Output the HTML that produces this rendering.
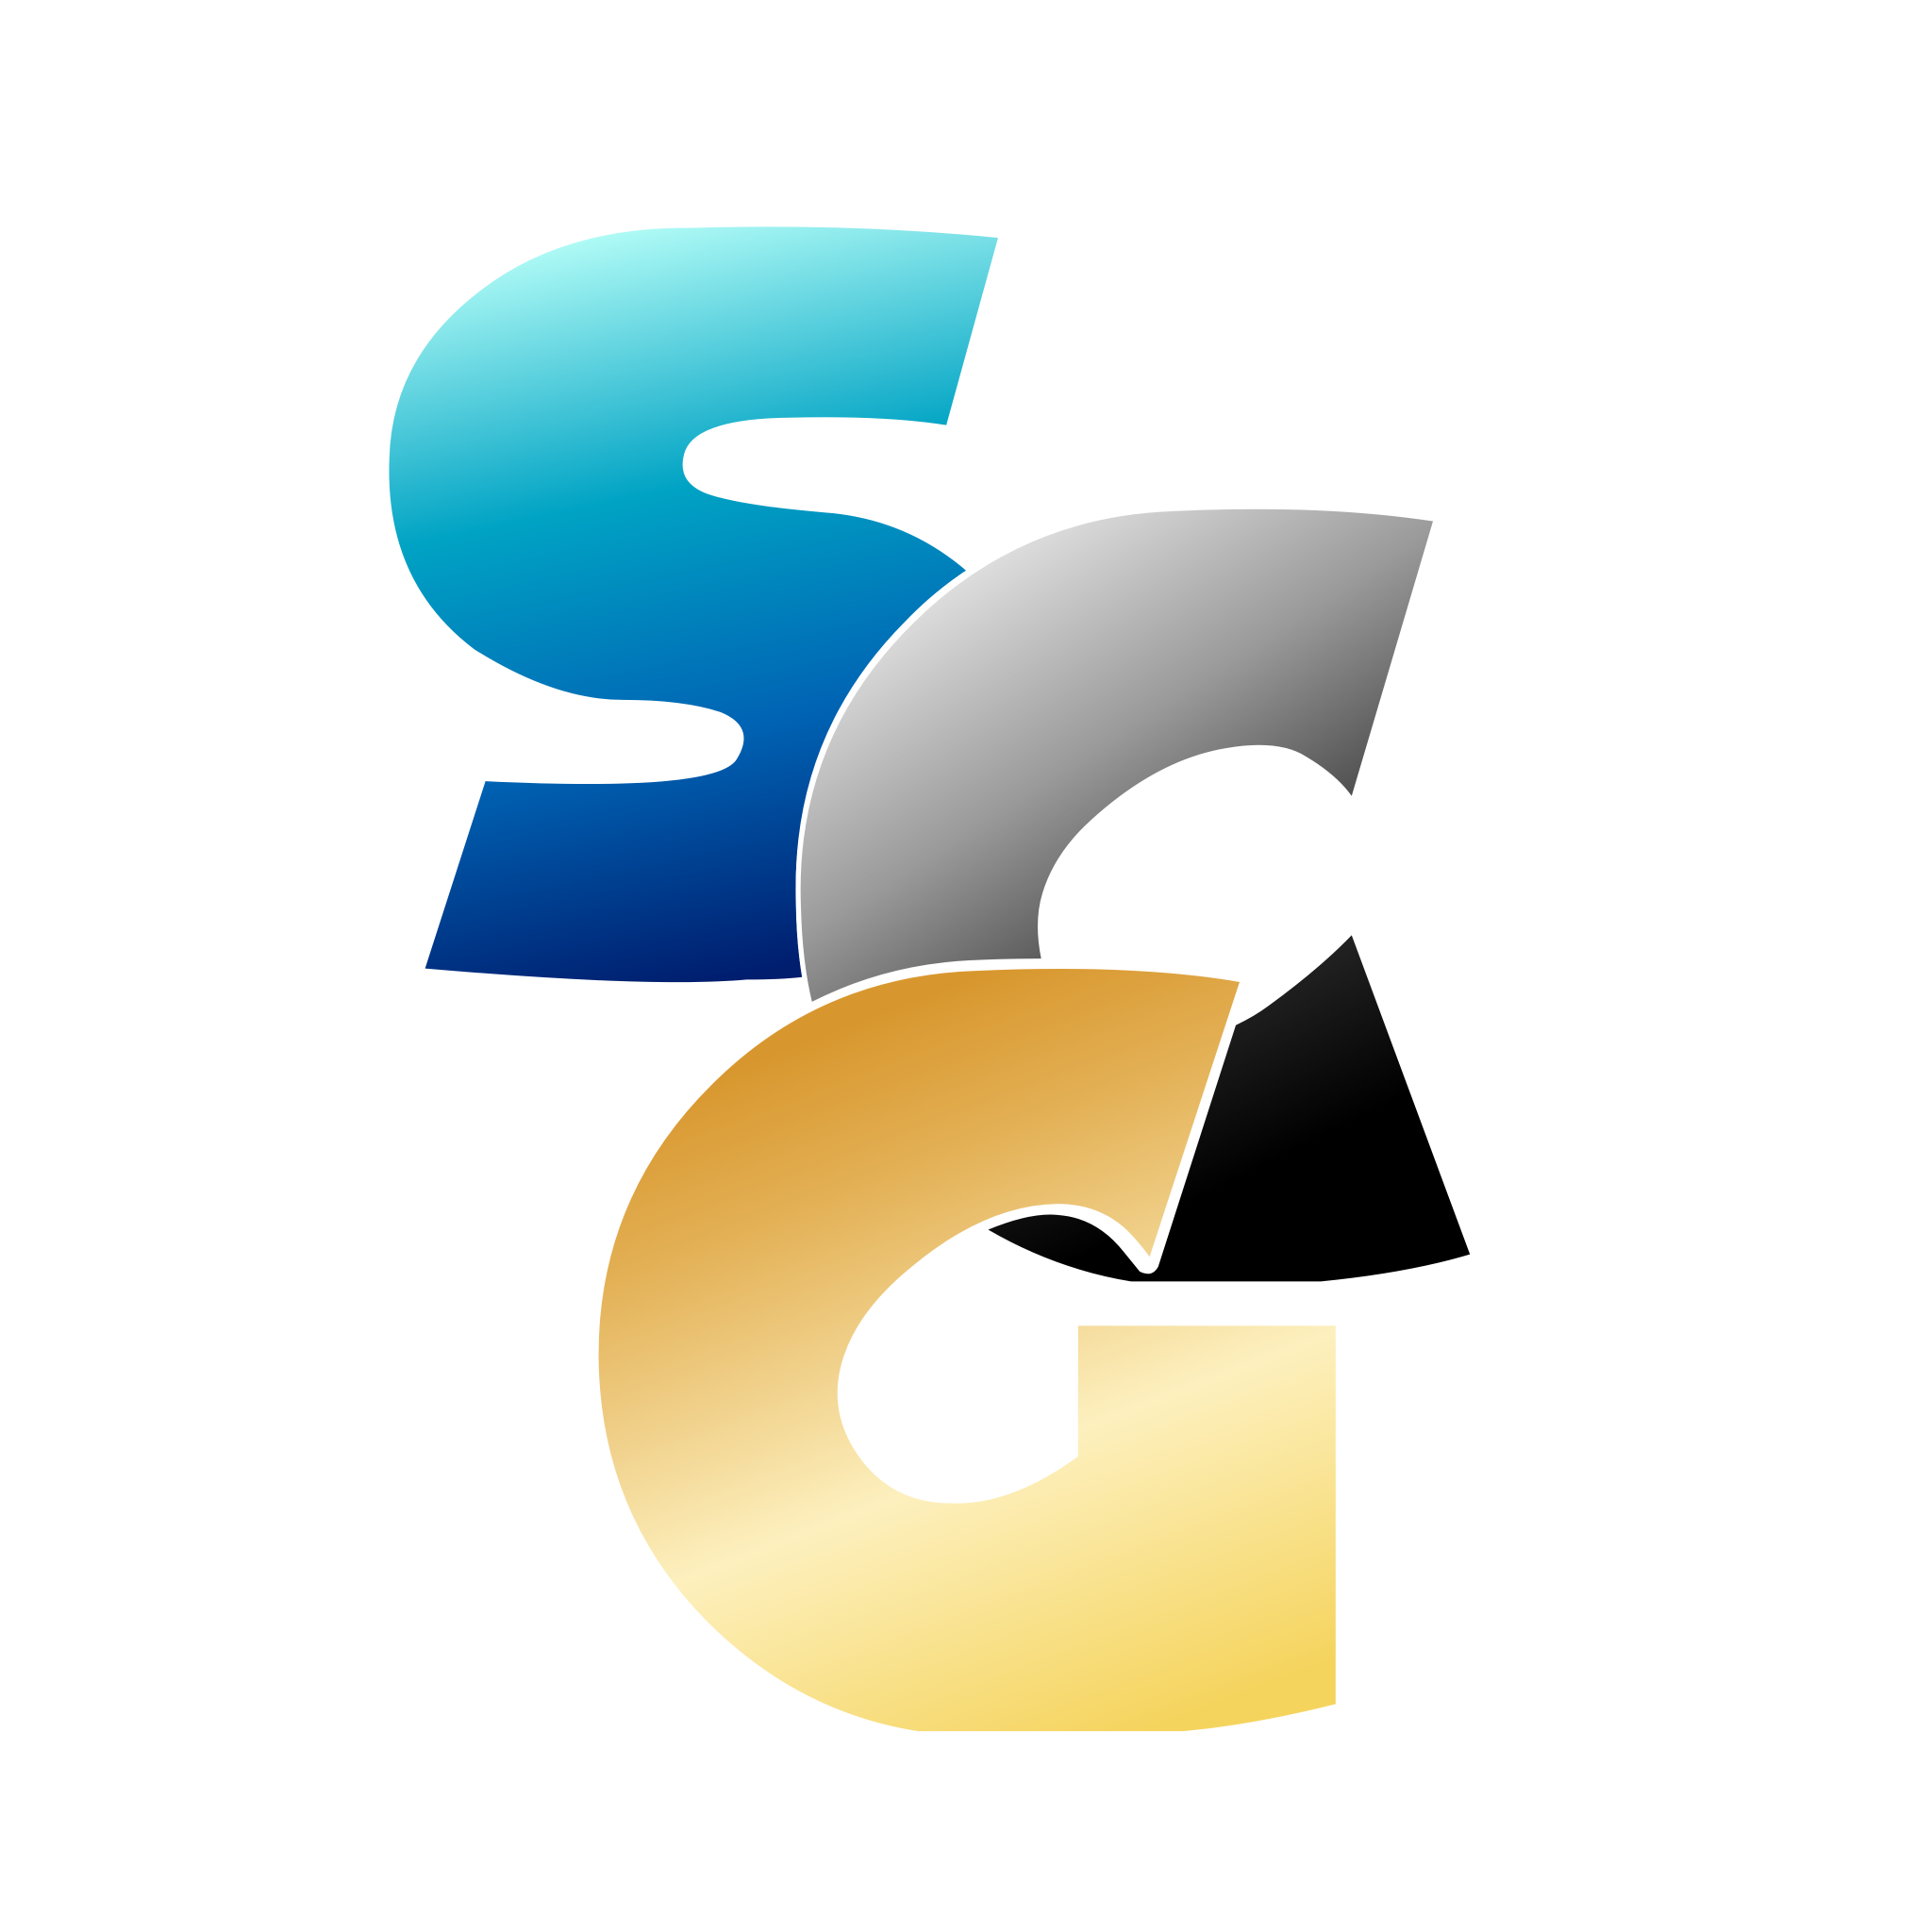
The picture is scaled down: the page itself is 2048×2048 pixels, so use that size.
<!DOCTYPE html>
<html><head><meta charset="utf-8"><style>
html,body{margin:0;padding:0;background:#fff;}
svg{display:block;}
</style></head><body>
<svg width="2048" height="2048" viewBox="0 0 1568 1568" xmlns="http://www.w3.org/2000/svg">
<defs>
<linearGradient id="gS" gradientUnits="userSpaceOnUse" x1="440" y1="190" x2="570" y2="800">
<stop offset="0" stop-color="#b8fff8"/><stop offset="0.36" stop-color="#00a3c4"/><stop offset="0.68" stop-color="#0063b4"/><stop offset="1" stop-color="#001d6e"/>
</linearGradient>
<linearGradient id="gC" gradientUnits="userSpaceOnUse" x1="790" y1="430" x2="1010" y2="770">
<stop offset="0" stop-color="#e8e8e8"/><stop offset="0.5" stop-color="#9a9a9a"/><stop offset="1" stop-color="#333"/>
</linearGradient>
<linearGradient id="gA" gradientUnits="userSpaceOnUse" x1="1060" y1="780" x2="1120" y2="900">
<stop offset="0" stop-color="#222"/><stop offset="1" stop-color="#000"/>
</linearGradient>
<linearGradient id="gG" gradientUnits="userSpaceOnUse" x1="720" y1="820" x2="940" y2="1400">
<stop offset="0" stop-color="#d8972e"/><stop offset="0.2" stop-color="#e3b055"/><stop offset="0.6" stop-color="#fdf0be"/><stop offset="1" stop-color="#f5d45e"/>
</linearGradient>
</defs>
<rect width="1568" height="1568" fill="#fff"/>
<path fill="url(#gS)" d="M 810 193 L 768 345 Q 718 337 640 339 Q 566 340 556 366 Q 548 390 572 400 Q 598 410 670 416 Q 735 421 784 463 Q 758 480 734 505 Q 642 598 646 730 Q 646 764 651 793 Q 634 795 606 795 Q 530 802 345 786 L 394 634 Q 582 643 598 616 Q 614 590 585 578 Q 555 568 505 568 Q 450 568 385 527 Q 312 472 316 372 Q 318 290 391 235 Q 458 184 560 185 Q 690 181 810 193 Z"/>
<path fill="url(#gC)" stroke="#fff" stroke-width="8" paint-order="stroke" d="M 1163 423 L 1097 646 Q 1085 629 1060 614 Q 1038 600 996 607 Q 940 616 886 665 Q 856 692 846 725 Q 839 748 845 778 Q 820 778 796 779 Q 722 781 659 813 Q 651 780 650 735 Q 645 600 742 505 Q 828 420 950 415 Q 1070 409 1163 423 Z"/>
<path fill="url(#gA)" d="M 1097 759 L 1193 1018 Q 1143 1033 1072 1040 L 918 1040 Q 857 1030 802 998 Q 836 984 858 986 Q 890 988 912 1016 L 925 1032 Q 935 1037 940 1028 L 1003 832 Q 1018 825 1030 816 Q 1071 786 1097 759 Z"/>
<path fill="url(#gG)" stroke="#fff" stroke-width="8" paint-order="stroke" d="M 1006 797 L 933 1020 Q 922 1005 912 996 Q 890 977 858 977 Q 800 978 740 1028 Q 698 1062 685 1100 Q 670 1144 697 1182 Q 724 1220 772 1220 Q 820 1222 875 1182 L 875 1076 L 1084 1076 L 1084 1383 Q 1016 1400 960 1405 L 745 1405 Q 650 1390 578 1320 Q 490 1234 486 1110 Q 482 975 578 880 Q 665 793 790 788 Q 919 782 1006 797 Z"/>
</svg>
</body></html>
